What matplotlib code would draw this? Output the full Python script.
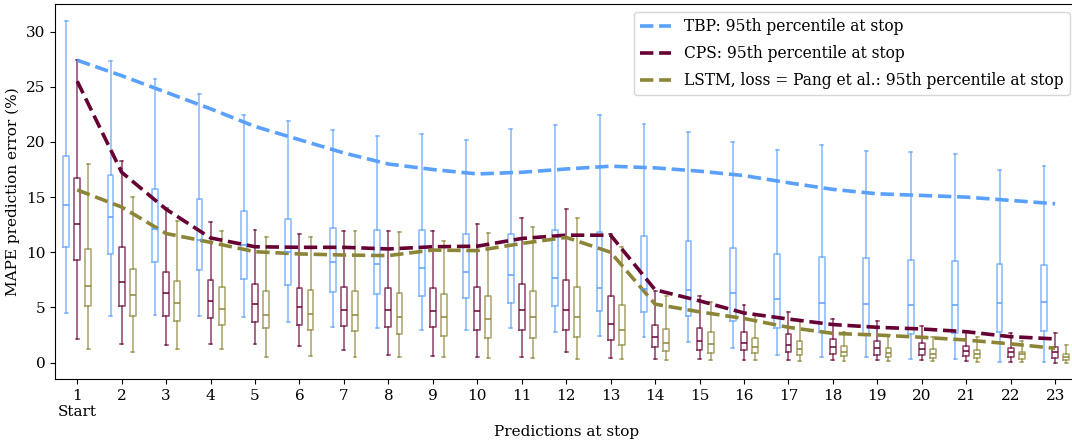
import matplotlib
matplotlib.use("Agg")
import matplotlib.pyplot as plt

plt.rcParams["font.family"] = "DejaVu Serif"

stops = list(range(1, 24))
tick_labels = ["1\nStart"] + [str(s) for s in stops[1:]]

# box stats per stop: (low whisker, q1, median, q3, high whisker)
tbp_low = [4.5, 4.2, 4.3, 4.2, 4.1, 3.65, 3.2, 3.1, 3.0, 3.0, 3.1, 2.8, 2.4, 2.3, 1.9, 1.3, 0.7, 0.5, 0.5, 0.3, 0.3, 0.1, 0.1]
tbp_q1 = [10.5, 9.85, 9.1, 8.4, 7.6, 7.0, 6.4, 6.2, 6.0, 5.9, 5.4, 5.1, 4.7, 4.6, 4.2, 3.8, 3.1, 2.8, 2.5, 2.6, 2.7, 2.8, 2.9]
tbp_med = [14.3, 13.2, 12.15, 11.1, 10.7, 10.0, 9.1, 8.9, 8.6, 8.2, 7.9, 7.7, 6.8, 6.7, 6.6, 6.35, 5.8, 5.4, 5.3, 5.2, 5.2, 5.4, 5.45]
tbp_q3 = [18.7, 17.0, 15.75, 14.8, 13.7, 13.0, 12.2, 12.0, 12.0, 11.7, 11.7, 12.0, 11.8, 11.5, 11.0, 10.4, 9.8, 9.55, 9.5, 9.3, 9.2, 8.9, 8.85]
tbp_high = [31.0, 27.3, 25.7, 24.3, 22.4, 21.9, 21.1, 20.5, 20.7, 20.2, 21.2, 21.5, 22.4, 21.6, 20.9, 20.0, 19.3, 19.7, 19.2, 19.1, 18.9, 17.5, 17.8]

cps_low = [2.1, 1.65, 1.6, 1.7, 1.65, 1.55, 1.1, 0.7, 0.6, 0.55, 0.5, 0.95, 0.4, 0.3, 0.3, 0.25, 0.25, 0.25, 0.25, 0.2, 0.12, 0.1, 0.0]
cps_q1 = [9.3, 5.15, 4.25, 4.0, 3.7, 3.45, 3.3, 3.2, 3.2, 3.0, 3.0, 2.95, 2.05, 1.4, 1.15, 1.1, 1.0, 0.8, 0.7, 0.65, 0.6, 0.55, 0.45]
cps_med = [12.6, 7.35, 6.3, 5.6, 5.3, 5.0, 4.8, 4.8, 4.65, 4.65, 4.8, 4.8, 3.5, 2.35, 2.0, 1.8, 1.6, 1.45, 1.3, 1.2, 1.05, 0.95, 0.95]
cps_q3 = [16.7, 10.5, 8.2, 7.5, 7.1, 6.8, 6.85, 6.8, 6.75, 6.85, 7.1, 7.5, 6.05, 3.45, 3.1, 2.75, 2.55, 2.1, 1.95, 1.75, 1.5, 1.35, 1.4]
cps_high = [27.4, 18.3, 14.0, 12.7, 12.0, 11.7, 11.9, 11.9, 11.95, 12.6, 13.1, 13.9, 11.7, 6.5, 6.0, 5.2, 4.6, 3.95, 3.8, 3.3, 2.85, 2.65, 2.7]

lstm_low = [1.2, 1.0, 1.2, 1.2, 0.55, 0.6, 0.55, 0.55, 0.55, 0.4, 0.4, 0.3, 0.3, 0.25, 0.25, 0.25, 0.12, 0.18, 0.18, 0.12, 0.1, 0.05, 0.0]
lstm_q1 = [5.1, 4.25, 3.75, 3.4, 3.15, 2.95, 2.85, 2.6, 2.4, 2.25, 2.25, 2.3, 1.6, 1.05, 0.9, 0.85, 0.7, 0.6, 0.55, 0.45, 0.45, 0.35, 0.27]
lstm_med = [6.95, 6.1, 5.4, 4.85, 4.35, 4.4, 4.3, 4.15, 4.1, 3.95, 4.15, 4.15, 2.95, 1.8, 1.7, 1.45, 1.25, 1.0, 0.9, 0.8, 0.75, 0.75, 0.55]
lstm_q3 = [10.3, 8.5, 7.4, 6.85, 6.5, 6.55, 6.5, 6.3, 6.2, 6.05, 6.5, 6.85, 5.25, 3.05, 2.75, 2.2, 1.95, 1.5, 1.35, 1.2, 1.15, 1.0, 0.75]
lstm_high = [18.0, 15.0, 12.85, 11.9, 11.4, 11.35, 11.9, 11.8, 11.05, 11.75, 12.25, 13.1, 10.45, 6.05, 5.45, 4.3, 3.75, 2.8, 2.5, 2.35, 2.3, 1.95, 1.6]

# 95th percentile at stop
tbp_p95 = [27.4, 26.0, 24.5, 23.0, 21.4, 20.2, 19.0, 18.0, 17.5, 17.1, 17.25, 17.55, 17.8, 17.65, 17.35, 16.95, 16.3, 15.7, 15.3, 15.15, 15.0, 14.7, 14.4]
cps_p95 = [25.5, 17.25, 13.9, 11.3, 10.5, 10.45, 10.45, 10.3, 10.5, 10.55, 11.25, 11.55, 11.55, 6.6, 5.6, 4.5, 3.95, 3.45, 3.2, 3.05, 2.8, 2.35, 2.15]
lstm_p95 = [15.65, 14.1, 11.7, 10.9, 10.05, 9.85, 9.75, 9.7, 10.2, 10.15, 10.8, 11.35, 10.0, 5.3, 4.6, 4.0, 3.2, 2.65, 2.5, 2.3, 2.05, 1.7, 1.3]

blue = "#5aa0ff"
maroon = "#660033"
olive = "#8c8537"


def stats(low, q1, med, q3, high):
    return [dict(whislo=a, q1=b, med=c, q3=d, whishi=e, fliers=[])
            for a, b, c, d, e in zip(low, q1, med, q3, high)]


fig = plt.figure(figsize=(10.72, 4.44), dpi=100)
ax = fig.add_axes([0.0513, 0.146, 0.9537, 0.845])

groups = [
    (stats(tbp_low, tbp_q1, tbp_med, tbp_q3, tbp_high), -0.25, blue),
    (stats(cps_low, cps_q1, cps_med, cps_q3, cps_high), 0.0, maroon),
    (stats(lstm_low, lstm_q1, lstm_med, lstm_q3, lstm_high), 0.25, olive),
]
for st, off, col in groups:
    kw = dict(color=col, linewidth=1.1, alpha=0.75)
    ax.bxp(st, positions=[s + off for s in stops], widths=0.13,
           showfliers=False, manage_ticks=False,
           boxprops=kw, whiskerprops=kw, capprops=kw,
           medianprops=dict(color=col, linewidth=1.1))

ax.plot(stops, tbp_p95, "--", color=blue, lw=2.6, label="TBP: 95th percentile at stop")
ax.plot(stops, cps_p95, "--", color=maroon, lw=2.6, label="CPS: 95th percentile at stop")
ax.plot(stops, lstm_p95, "--", color=olive, lw=2.6,
        label="LSTM, loss = Pang et al.: 95th percentile at stop")

ax.set_xlim(0.5, 23.5)
ax.set_ylim(-1.5, 32.5)
ax.set_xticks(stops)
ax.set_xticklabels(tick_labels)
ax.set_yticks([0, 5, 10, 15, 20, 25, 30])
ax.tick_params(labelsize=11)
ax.set_xlabel("Predictions at stop", fontsize=11)
ax.set_ylabel("MAPE prediction error (%)", fontsize=11)
ax.legend(loc="upper right", fontsize=11.2, labelspacing=0.65)

fig.savefig("out.png", dpi=100)
